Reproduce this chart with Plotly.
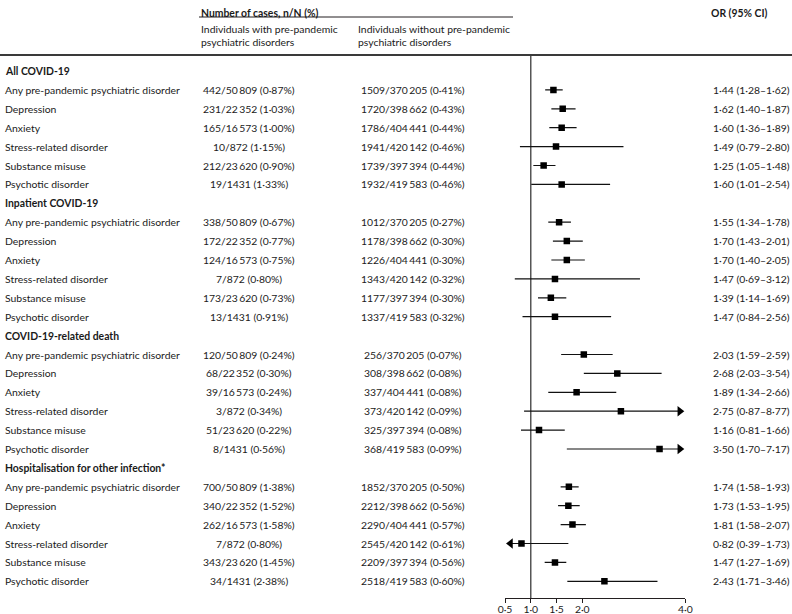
import plotly.graph_objects as go

# ---------------- data ----------------
groups = ["All COVID-19", "Inpatient COVID-19", "COVID-19-related death",
          "Hospitalisation for other infection*"]
exposures = ["Any pre-pandemic psychiatric disorder", "Depression", "Anxiety",
             "Stress-related disorder", "Substance misuse", "Psychotic disorder"]

denom_with = [50809, 22352, 16573, 872, 23620, 1431]
denom_without = [370205, 398662, 404441, 420142, 397394, 419583]

cases_with = [442, 231, 165, 10, 212, 19,
              338, 172, 124, 7, 173, 13,
              120, 68, 39, 3, 51, 8,
              700, 340, 262, 7, 343, 34]
pct_with = [0.87, 1.03, 1.00, 1.15, 0.90, 1.33,
            0.67, 0.77, 0.75, 0.80, 0.73, 0.91,
            0.24, 0.30, 0.24, 0.34, 0.22, 0.56,
            1.38, 1.52, 1.58, 0.80, 1.45, 2.38]
cases_without = [1509, 1720, 1786, 1941, 1739, 1932,
                 1012, 1178, 1226, 1343, 1177, 1337,
                 256, 308, 337, 373, 325, 368,
                 1852, 2212, 2290, 2545, 2209, 2518]
pct_without = [0.41, 0.43, 0.44, 0.46, 0.44, 0.46,
               0.27, 0.30, 0.30, 0.32, 0.30, 0.32,
               0.07, 0.08, 0.08, 0.09, 0.08, 0.09,
               0.50, 0.56, 0.57, 0.61, 0.56, 0.60]
or_est = [1.44, 1.62, 1.60, 1.49, 1.25, 1.60,
          1.55, 1.70, 1.70, 1.47, 1.39, 1.47,
          2.03, 2.68, 1.89, 2.75, 1.16, 3.50,
          1.74, 1.73, 1.81, 0.82, 1.47, 2.43]
or_lo = [1.28, 1.40, 1.36, 0.79, 1.05, 1.01,
         1.34, 1.43, 1.40, 0.69, 1.14, 0.84,
         1.59, 2.03, 1.34, 0.87, 0.81, 1.70,
         1.58, 1.53, 1.58, 0.39, 1.27, 1.71]
or_hi = [1.62, 1.87, 1.89, 2.80, 1.48, 2.54,
         1.78, 2.01, 2.05, 3.12, 1.69, 2.56,
         2.59, 3.54, 2.66, 8.77, 1.66, 7.17,
         1.93, 1.95, 2.07, 1.73, 1.69, 3.46]

tick_vals = [0.5, 1.0, 1.5, 2.0, 4.0]
tick_text = ["0·5", "1·0", "1·5", "2·0", "4·0"]
XMIN, XMAX = 0.5, 4.0

# ---------------- layout helpers ----------------
W, H = 792, 614
FONT = "Lato"
FS = 10.4
TXT = "#1a1a1a"

def px(x):
    return x / W

def py(y):
    return 1 - y / H

ROW0, ROWH = 71, 18.9           # pixel centre of first row, row pitch
PLOT_L, PLOT_R = 505, 685.3
PLOT_T, PLOT_B = 55, 598

def fmt_int(n):
    s = str(n)
    if len(s) >= 5:
        s = s[:-3] + "\u2009" + s[-3:]
    return s

def fmt_dec(v):
    return f"{v:.2f}".replace(".", "·")

annotations = []
def add_text(text, x, y, xanchor="left", bold=False, yref="y", size=FS):
    annotations.append(dict(
        text=f"<b>{text}</b>" if bold else text,
        x=x, y=y, xref="paper", yref=yref, xanchor=xanchor, yanchor="middle",
        showarrow=False, font=dict(family=FONT, size=size, color=TXT)))

# rows
row_of = []
r = 0
k = 0
for g in groups:
    add_text(g, px(3), r, bold=True)
    r += 1
    for j, e in enumerate(exposures):
        add_text(e, px(3), r)
        add_text(f"{fmt_int(cases_with[k])}/{fmt_int(denom_with[j])} ({fmt_dec(pct_with[k])}%)",
                 px(249), r, xanchor="center")
        add_text(f"{fmt_int(cases_without[k])}/{fmt_int(denom_without[j])} ({fmt_dec(pct_without[k])}%)",
                 px(413), r, xanchor="center")
        add_text(f"{fmt_dec(or_est[k])} ({fmt_dec(or_lo[k])}–{fmt_dec(or_hi[k])})", px(711), r)
        row_of.append(r)
        r += 1
        k += 1

# header texts
add_text("Number of cases, n/N (%)", px(199), py(13), bold=True, yref="paper")
add_text("OR (95% CI)", px(709), py(13), bold=True, yref="paper")
add_text("Individuals with pre-pandemic", px(199), py(29), yref="paper")
add_text("psychiatric disorders", px(199), py(42), yref="paper")
add_text("Individuals without pre-pandemic", px(356), py(29), yref="paper")
add_text("psychiatric disorders", px(356), py(42), yref="paper")

# ---------------- traces ----------------
unit_px = (PLOT_R - PLOT_L) / (XMAX - XMIN)
ARW = 9
arrow_off = (ARW / 2 + 1) / unit_px

ci_x, ci_y = [], []
ar_r_x, ar_r_y, ar_l_x, ar_l_y = [], [], [], []
for i in range(len(or_est)):
    lo, hi = or_lo[i], or_hi[i]
    x0, x1 = lo, hi
    if hi > XMAX:
        x1 = XMAX - arrow_off
        ar_r_x.append(x1)
        ar_r_y.append(row_of[i])
    if lo < XMIN:
        x0 = XMIN + arrow_off
        ar_l_x.append(x0)
        ar_l_y.append(row_of[i])
    ci_x += [x0, x1, None]
    ci_y += [row_of[i], row_of[i], None]

fig = go.Figure()
fig.add_trace(go.Scatter(x=ci_x, y=ci_y, mode="lines",
                         line=dict(color="#111111", width=1.2),
                         hoverinfo="skip", showlegend=False))
fig.add_trace(go.Scatter(x=or_est, y=row_of, mode="markers",
                         marker=dict(symbol="square", size=6.5, color="#000000"),
                         showlegend=False))
fig.add_trace(go.Scatter(x=ar_r_x, y=ar_r_y, mode="markers", cliponaxis=False,
                         marker=dict(symbol="triangle-right", size=ARW, color="#000000"),
                         showlegend=False, hoverinfo="skip"))
fig.add_trace(go.Scatter(x=ar_l_x, y=ar_l_y, mode="markers", cliponaxis=False,
                         marker=dict(symbol="triangle-left", size=ARW, color="#000000"),
                         showlegend=False, hoverinfo="skip"))

y_top = (PLOT_T - ROW0) / ROWH
y_bot = (PLOT_B - ROW0) / ROWH

shapes = [
    dict(type="line", xref="paper", yref="paper", x0=px(199), x1=px(513),
         y0=py(17), y1=py(17), line=dict(color="#231f20", width=1)),
    dict(type="line", xref="paper", yref="paper", x0=0, x1=1,
         y0=py(55), y1=py(55), line=dict(color="#3a3a3a", width=2)),
    dict(type="line", xref="x", yref="y domain", x0=1.0, x1=1.0, y0=0, y1=1,
         line=dict(color="#555555", width=1.5), layer="below"),
]

fig.update_layout(
    template="none",
    width=W, height=H,
    margin=dict(l=0, r=0, t=0, b=0, pad=0, autoexpand=False),
    paper_bgcolor="white", plot_bgcolor="white",
    annotations=annotations, shapes=shapes,
    xaxis=dict(domain=[px(PLOT_L), px(PLOT_R)], range=[XMIN, XMAX],
               automargin=False,
               showgrid=False, zeroline=False, showline=True,
               linecolor="#231f20", linewidth=1, ticks="outside", ticklen=4,
               tickcolor="#231f20", tickwidth=1, tickvals=tick_vals, ticktext=tick_text,
               ticklabelstandoff=-2,
               tickfont=dict(family=FONT, size=FS, color=TXT), fixedrange=True),
    yaxis=dict(domain=[py(PLOT_B), py(PLOT_T)], range=[y_bot, y_top],
               automargin=False, visible=False, fixedrange=True),
    showlegend=False,
)

fig.write_html("out.html", config={"displayModeBar": False},
               post_script="document.body.style.margin='0px';")
